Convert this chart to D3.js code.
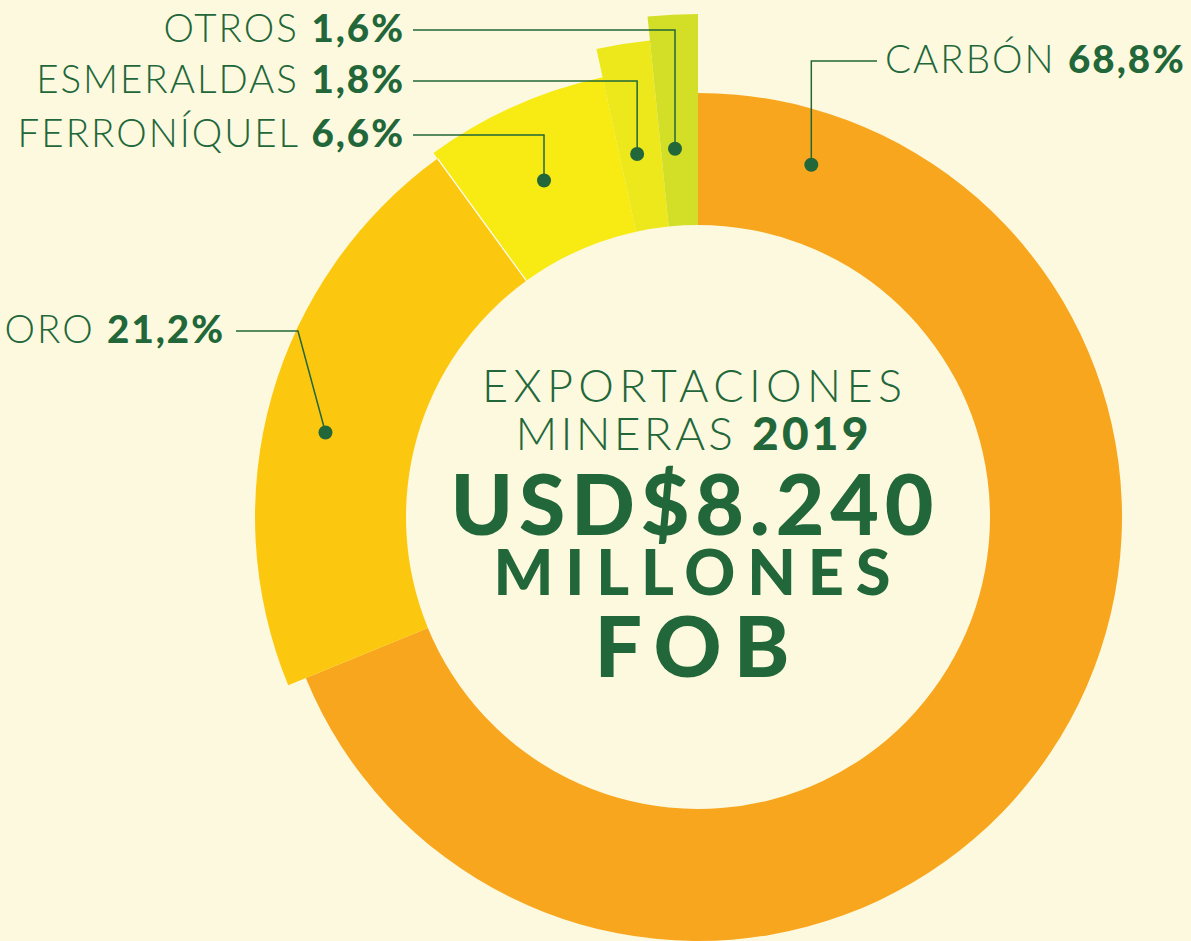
<!DOCTYPE html>
<html>
<head>
<meta charset="utf-8">
<script src="https://cdn.jsdelivr.net/npm/d3@7"></script>
<style>
  html, body { margin: 0; padding: 0; background: #fdf9de; }
  svg { display: block; }
  text { font-family: Lato, "Open Sans", sans-serif; fill: #22673a; }
</style>
</head>
<body>
<svg id="chart" width="1191" height="941"></svg>
<script>
// datos: exportaciones mineras 2019 (participación %)
const categories = ["CARBÓN", "ORO", "FERRONÍQUEL", "ESMERALDAS", "OTROS"];
const shares = [68.8, 21.2, 6.6, 1.8, 1.6];
const shareLabels = ["68,8%", "21,2%", "6,6%", "1,8%", "1,6%"];
const titleLines = ["EXPORTACIONES", "MINERAS", "2019", "USD$8.240", "MILLONES", "FOB"];

const width = 1191;
const height = 941;
const cx = 698, cy = 517;
const green = "#22673a";

// estilo por categoría
const colors = {
  "CARBÓN": "#f8a61e",
  "ORO": "#fcc80f",
  "FERRONÍQUEL": "#f7eb13",
  "ESMERALDAS": "#ece81c",
  "OTROS": "#d3df27",
};
const outerR = { "CARBÓN": 424, "ORO": 443, "FERRONÍQUEL": 450, "ESMERALDAS": 479, "OTROS": 503 };
const innerR = 292;

// donde va el punto de cada etiqueta (fracción del ángulo de la porción, radio)
const anchor = {
  "CARBÓN": { f: 0.072, r: 370 },
  "ORO": { f: 0.46, r: 382 },
  "FERRONÍQUEL": { f: 0.48, r: 370 },
  "ESMERALDAS": { f: 0.42, r: 368 },
  "OTROS": { f: 0.38, r: 369 },
};

const svg = d3.select("#chart");
const g = svg.append("g").attr("transform", `translate(${cx},${cy})`);

const pie = d3.pie().sort(null).value((d) => d.value);
const data = categories.map((c, i) => ({ name: c, value: shares[i], label: shareLabels[i] }));
const arcs = pie(data);

const arc = d3.arc()
  .innerRadius(innerR)
  .outerRadius((d) => outerR[d.data.name]);

g.selectAll("path.slice")
  .data(arcs)
  .join("path")
  .attr("class", "slice")
  .attr("d", arc)
  .attr("fill", (d) => colors[d.data.name]);

// línea blanca entre oro y ferroníquel
const oroArc = arcs[1];
g.append("line")
  .attr("x1", innerR * Math.sin(oroArc.endAngle))
  .attr("y1", -innerR * Math.cos(oroArc.endAngle))
  .attr("x2", outerR["ORO"] * Math.sin(oroArc.endAngle))
  .attr("y2", -outerR["ORO"] * Math.cos(oroArc.endAngle))
  .attr("stroke", "#fff")
  .attr("stroke-width", 1.2);

// posición de los puntos
const dot = (d) => {
  const a = anchor[d.data.name];
  const ang = d.startAngle + (d.endAngle - d.startAngle) * a.f;
  return [cx + a.r * Math.sin(ang), cy - a.r * Math.cos(ang)];
};

// etiquetas: posición del texto
const labelPos = {
  "OTROS": { x: 405, y: 42, anchor: "end" },
  "ESMERALDAS": { x: 405, y: 93, anchor: "end" },
  "FERRONÍQUEL": { x: 405, y: 147, anchor: "end" },
  "CARBÓN": { x: 885, y: 73, anchor: "start" },
  "ORO": { x: 225, y: 343, anchor: "end" },
};

const labels = svg.append("g");
arcs.forEach((d) => {
  const p = labelPos[d.data.name];
  const [px, py] = dot(d);
  const ly = p.y - 12;
  let pts;
  if (d.data.name === "CARBÓN") {
    pts = [[877, ly], [px, ly], [px, py]];
  } else if (d.data.name === "ORO") {
    pts = [[236, ly], [298, ly], [px, py]];
  } else {
    pts = [[413, ly], [px, ly], [px, py]];
  }
  labels.append("path")
    .attr("d", d3.line()(pts))
    .attr("fill", "none")
    .attr("stroke", green)
    .attr("stroke-width", 1.5);
  labels.append("circle")
    .attr("cx", px)
    .attr("cy", py)
    .attr("r", 7)
    .attr("fill", green);

  const t = labels.append("text")
    .attr("x", p.x)
    .attr("y", p.y)
    .attr("text-anchor", p.anchor)
    .attr("font-size", 38.5)
    .attr("letter-spacing", 2);
  t.append("tspan").attr("font-weight", 300).text(d.data.name + " ");
  t.append("tspan").attr("font-weight", 900).text(d.data.label);
});

// título central
const tx = 692;
function fit(sel, w) {
  const n = sel.text().length;
  const len = sel.node().getComputedTextLength();
  const ls = (w - len) / (n - 1);
  sel.attr("letter-spacing", ls).attr("dx", ls / 2);
}

const center = svg.append("g");
const l1 = center.append("text")
  .attr("x", tx).attr("y", 402)
  .attr("text-anchor", "middle")
  .attr("font-size", 45).attr("font-weight", 300)
  .text(titleLines[0]);
fit(l1, 420);

const l2 = center.append("text")
  .attr("x", tx).attr("y", 450)
  .attr("text-anchor", "middle")
  .attr("font-size", 46);
l2.append("tspan").attr("font-weight", 300).text(titleLines[1] + " ");
l2.append("tspan").attr("font-weight", 900).text(titleLines[2]);
fit(l2, 353);

const l3 = center.append("text")
  .attr("x", tx).attr("y", 535)
  .attr("text-anchor", "middle")
  .attr("font-size", 84).attr("font-weight", 900)
  .text(titleLines[3]);
fit(l3, 483);

const l4 = center.append("text")
  .attr("x", tx).attr("y", 595)
  .attr("text-anchor", "middle")
  .attr("font-size", 63).attr("font-weight", 900)
  .text(titleLines[4]);
fit(l4, 397);

const l5 = center.append("text")
  .attr("x", tx).attr("y", 677)
  .attr("text-anchor", "middle")
  .attr("font-size", 84).attr("font-weight", 900)
  .text(titleLines[5]);
fit(l5, 195);
</script>
</body>
</html>
